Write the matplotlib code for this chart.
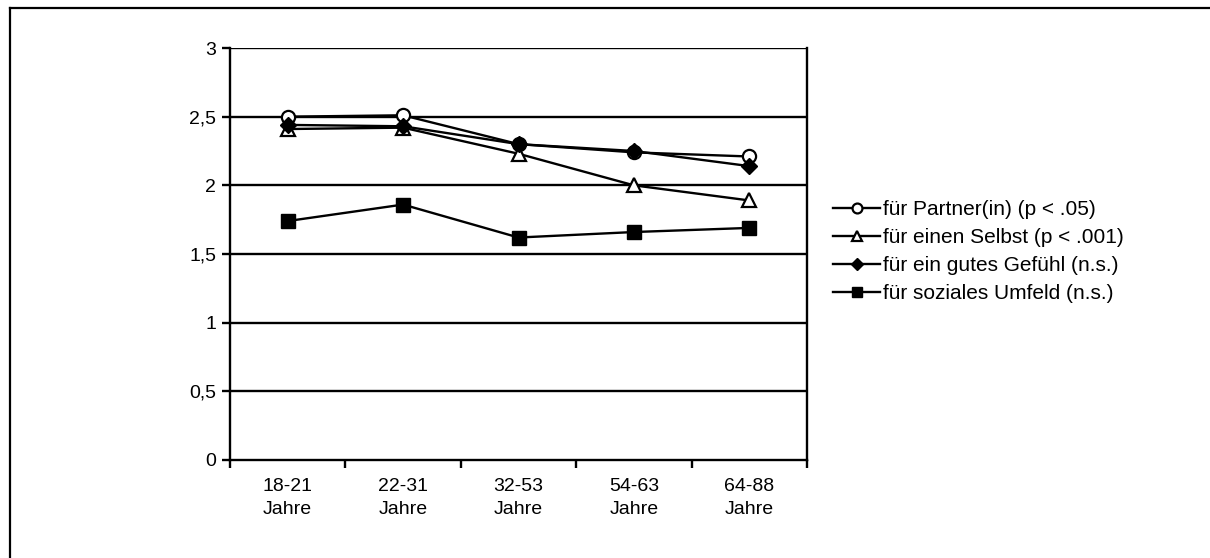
import matplotlib
matplotlib.use("Agg")
import matplotlib.pyplot as plt
from matplotlib.lines import Line2D

plt.rcParams["font.family"] = ["Liberation Sans", "DejaVu Sans"]
plt.rcParams["font.size"] = 14

# age groups on the x axis
categories = ["18-21\nJahre", "22-31\nJahre", "32-53\nJahre", "54-63\nJahre", "64-88\nJahre"]

partner = [2.50, 2.51, 2.30, 2.24, 2.21]
selbst = [2.41, 2.42, 2.23, 2.00, 1.89]
gefuehl = [2.44, 2.43, 2.30, 2.25, 2.14]
umfeld = [1.74, 1.86, 1.62, 1.66, 1.69]

labels = [
    "für Partner(in) (p < .05)",
    "für einen Selbst (p < .001)",
    "für ein gutes Gefühl (n.s.)",
    "für soziales Umfeld (n.s.)",
]

y_ticks = [0, 0.5, 1, 1.5, 2, 2.5, 3]
y_ticklabels = ["0", "0,5", "1", "1,5", "2", "2,5", "3"]

fig = plt.figure(figsize=(12.10, 5.58), dpi=100)
ax = fig.add_axes([230 / 1210, 98 / 558, 577 / 1210, 412 / 558])

x = [i + 0.5 for i in range(len(categories))]
lw = 1.7
ax.plot(x, partner, color="black", lw=lw, marker="o", ms=9.5,
        mfc="white", mec="black", mew=1.6, label=labels[0], zorder=3)
ax.plot(x, selbst, color="black", lw=lw, marker="^", ms=10,
        mfc="white", mec="black", mew=1.6, label=labels[1], zorder=3)
ax.plot(x, gefuehl, color="black", lw=lw, marker="D", ms=8,
        mfc="black", mec="black", label=labels[2], zorder=4)
ax.plot(x, umfeld, color="black", lw=lw, marker="s", ms=10,
        mfc="black", mec="black", label=labels[3], zorder=3)

ax.set_xlim(0, len(categories))
ax.set_ylim(0, 3)
ax.set_yticks(y_ticks)
ax.set_yticklabels(y_ticklabels)
ax.set_xticks(range(len(categories) + 1))
ax.set_xticklabels([])
ax.set_xticks(x, minor=True)
ax.set_xticklabels(categories, minor=True, linespacing=1.45)
ax.tick_params(axis="x", which="minor", length=0, pad=13)
ax.tick_params(axis="x", which="major", length=6, width=1.7, direction="out")
ax.tick_params(axis="y", length=6, width=1.7, direction="out", pad=4)

for y in y_ticks[1:]:
    ax.axhline(y, color="black", lw=1.7, zorder=1)

for side in ["left", "bottom", "right"]:
    ax.spines[side].set_linewidth(1.7)
ax.spines["top"].set_visible(False)

leg = fig.legend(loc="center left", bbox_to_anchor=(833 / 1210, 1 - 251.5 / 558),
                 frameon=False, fontsize=15, handlelength=2.26, handletextpad=0.15,
                 labelspacing=0.43, borderpad=0, borderaxespad=0, markerscale=0.75)

# outer frame (only top and left edge fall inside the picture)
fx = 9.5 / 1210
fy = 1 - 7.5 / 558
fig.add_artist(Line2D([fx, 1], [fy, fy], transform=fig.transFigure, color="black", lw=1.6))
fig.add_artist(Line2D([fx, fx], [0, fy], transform=fig.transFigure, color="black", lw=1.6))

fig.savefig("out.png", dpi=100)
